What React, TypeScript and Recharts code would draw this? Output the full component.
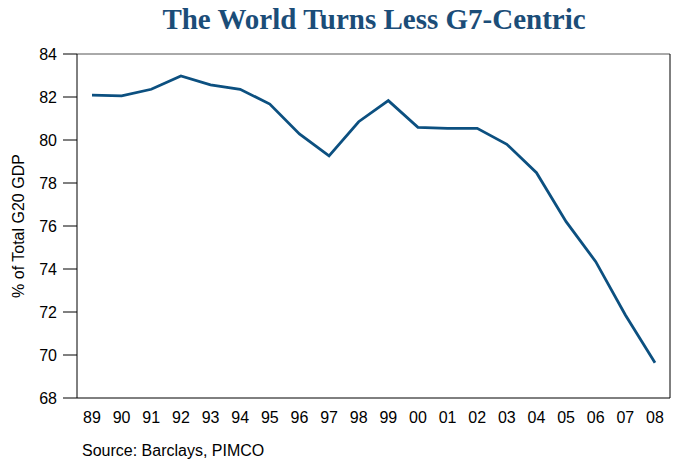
import React from 'react';
import { LineChart, Line, XAxis, YAxis } from 'recharts';

const years = ['89', '90', '91', '92', '93', '94', '95', '96', '97', '98', '99', '00', '01', '02', '03', '04', '05', '06', '07', '08'];
const g7Share = [82.09, 82.05, 82.36, 82.98, 82.56, 82.36, 81.67, 80.28, 79.26, 80.85, 81.83, 80.59, 80.54, 80.54, 79.8, 78.48, 76.2, 74.34, 71.86, 69.64];
const yTicks = [68, 70, 72, 74, 76, 78, 80, 82, 84];

const data = years.map((y, i) => ({ year: y, share: g7Share[i] }));

const sans = 'Liberation Sans, Arial, sans-serif';
const xPad = { left: 15, right: 15 };

const App: React.FC = () => (
  <div style={{ position: 'absolute', left: 0, top: 0, width: 673, height: 462, background: '#fff' }}>
    <div
      style={{
        position: 'absolute', left: 0, top: 3, width: 748, textAlign: 'center',
        fontFamily: 'Liberation Serif, Times New Roman, serif', fontWeight: 'bold',
        fontSize: 29, color: '#1b4d78',
      }}
    >
      The World Turns Less G7-Centric
    </div>
    <LineChart width={673} height={462} data={data} margin={{ top: 53, right: 2, left: 0, bottom: 34 }}>
      <XAxis
        dataKey="year"
        stroke="#000"
        tickLine={false}
        tickMargin={8}
        interval={0}
        height={30}
        padding={xPad}
        tick={{ fill: '#000', fontSize: 16, fontFamily: sans }}
      />
      <XAxis xAxisId="top" dataKey="year" orientation="top" height={1} padding={xPad} tick={false} tickLine={false} stroke="#555" />
      <YAxis
        domain={[68, 84]}
        ticks={yTicks}
        width={77}
        stroke="#000"
        tickSize={14}
        tickMargin={6}
        tick={{ fill: '#000', fontSize: 16, fontFamily: sans }}
        label={{ value: '% of Total G20 GDP', angle: -90, position: 'insideLeft', offset: 18, style: { textAnchor: 'middle', fontSize: 16, fontFamily: sans, fill: '#000' } }}
      />
      <YAxis yAxisId="right" orientation="right" domain={[68, 84]} width={1} tick={false} tickLine={false} stroke="#000" />
      <Line type="linear" dataKey="share" stroke="#0c5080" strokeWidth={2.8} dot={false} isAnimationActive={false} />
    </LineChart>
    <div style={{ position: 'absolute', left: 82, top: 442, fontFamily: sans, fontSize: 16, color: '#000' }}>
      Source: Barclays, PIMCO
    </div>
  </div>
);

export default App;
